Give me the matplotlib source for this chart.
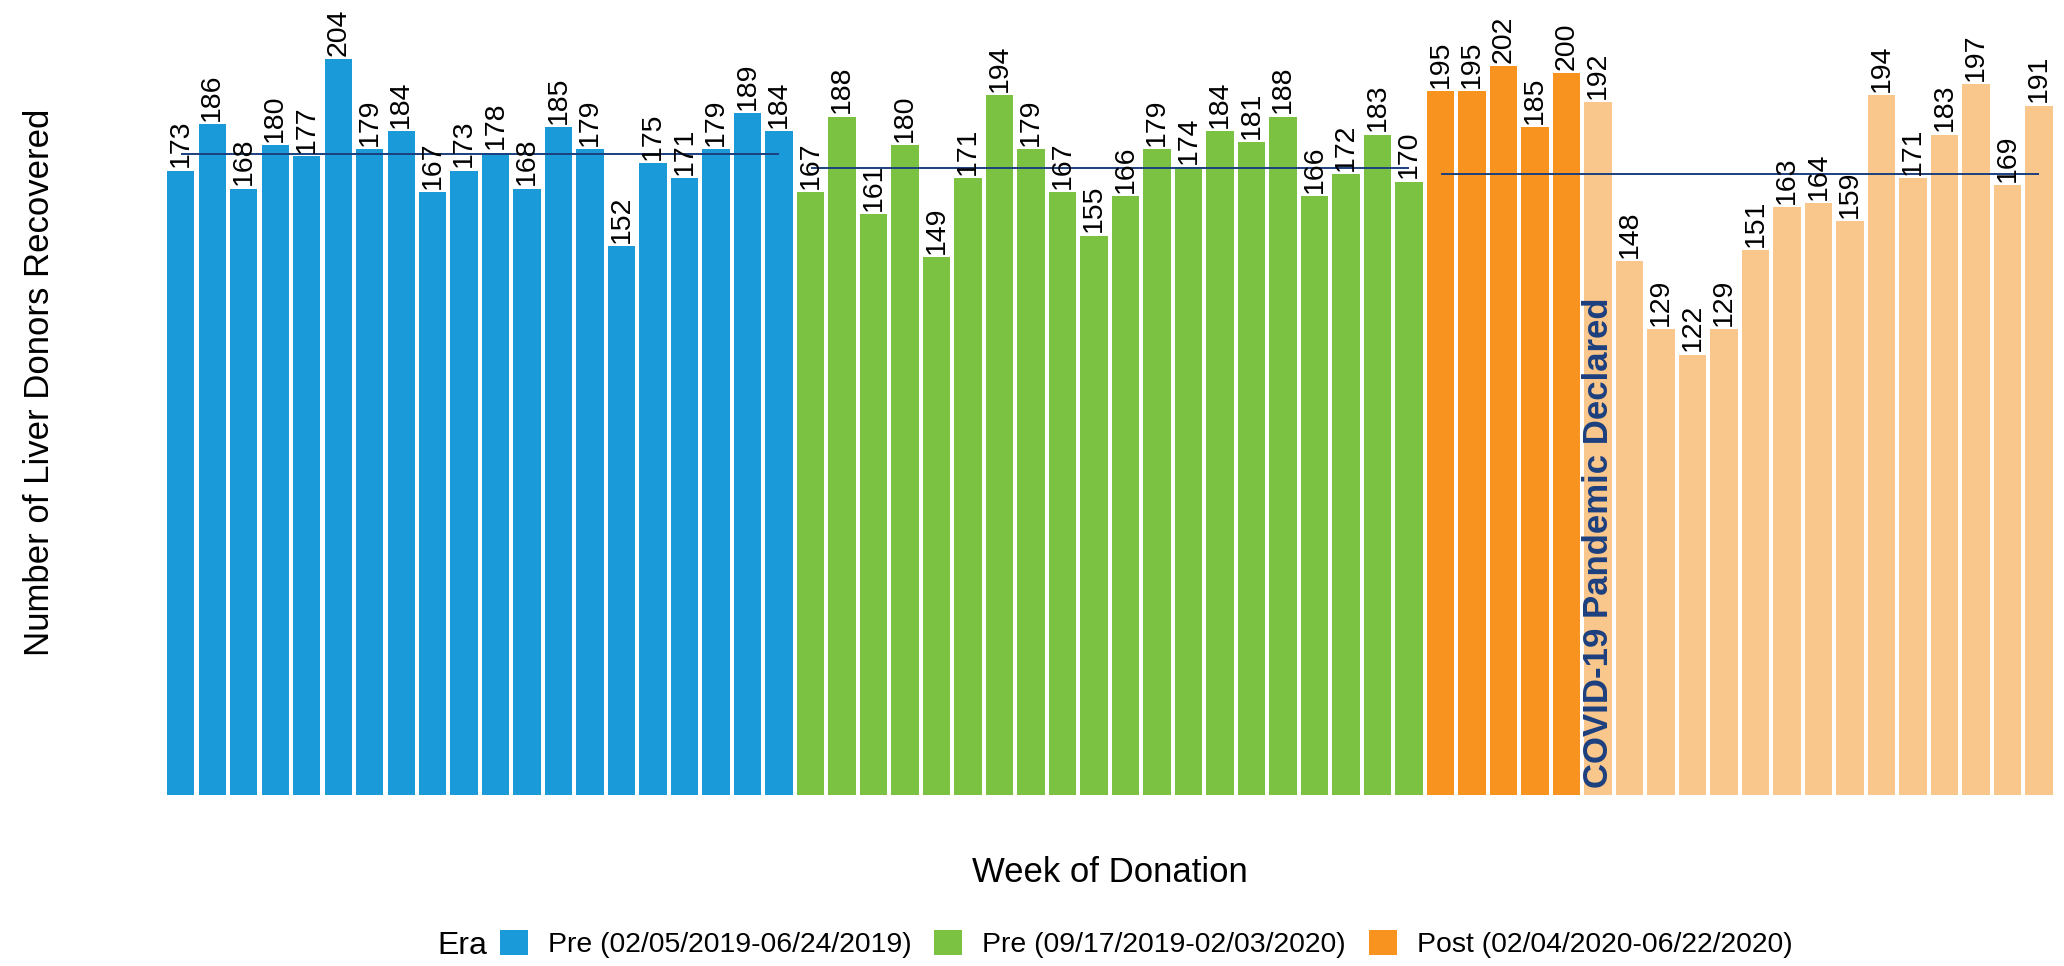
import matplotlib
matplotlib.use("Agg")
import matplotlib.pyplot as plt
from matplotlib.patches import Patch
import numpy as np

plt.rcParams['font.family'] = ['Liberation Sans', 'DejaVu Sans']

# Donantes semanais por era
pre1_vals = [173, 186, 168, 180, 177, 204, 179, 184, 167, 173,
             178, 168, 185, 179, 152, 175, 171, 179, 189, 184]
pre2_vals = [167, 188, 161, 180, 149, 171, 194, 179, 167, 155,
             166, 179, 174, 184, 181, 188, 166, 172, 183, 170]
post_before = [195, 195, 202, 185, 200]
post_after = [192, 148, 129, 122, 129, 151, 163, 164, 159, 194,
              171, 183, 197, 169, 191]

era_labels = ["Pre (02/05/2019-06/24/2019)",
              "Pre (09/17/2019-02/03/2020)",
              "Post (02/04/2020-06/22/2020)"]
annotation = "COVID-19 Pandemic Declared"

# cores
c_blue = '#1a9ad8'
c_green = '#7cc242'
c_orange = '#f7931e'
c_light = '#f9c68b'
c_navy = '#1c3f7e'

post_vals = post_before + post_after
values = pre1_vals + pre2_vals + post_vals
colors = ([c_blue] * len(pre1_vals) + [c_green] * len(pre2_vals)
          + [c_orange] * len(post_before) + [c_light] * len(post_after))
x = np.arange(1, len(values) + 1)

W, H = 2064, 966
fig = plt.figure(figsize=(W / 100, H / 100), dpi=100)
ax = fig.add_axes([163.4 / W, 171 / H, 1893 / W, 795 / H])
ax.bar(x, values, width=0.87, color=colors, zorder=1)
ax.set_xlim(0.45, 60.55)
ax.set_ylim(0, 220.3)
ax.axis('off')

# rótulos dos valores
for xi, v in zip(x, values):
    ax.text(xi, v + 0.9, str(v), rotation=90, ha='center', va='bottom',
            fontsize=20.5, color='black', zorder=4)

# médias por era
grupos = [pre1_vals, pre2_vals, post_vals]
inicio = 1
for g in grupos:
    fim = inicio + len(g) - 1
    ax.hlines(np.mean(g), inicio, fim, color=c_navy, linewidth=1.4, zorder=3)
    inicio = fim + 1

# anotação da pandemia (primeira semana após declaração)
x_covid = len(pre1_vals) + len(pre2_vals) + len(post_before) + 1
ax.text(x_covid, 2, annotation, rotation=90, ha='center', va='bottom',
        fontsize=25, fontweight='bold', color=c_navy, zorder=5)

fig.text(40 / W, 1 - 382 / H, "Number of Liver Donors Recovered",
         rotation=90, ha='center', va='center', fontsize=25)
fig.text(1110 / W, 1 - 873 / H, "Week of Donation",
         ha='center', va='center', fontsize=25)

handles = [Patch(facecolor=c, edgecolor='none') for c in (c_blue, c_green, c_orange)]
fig.legend(handles, era_labels, ncol=3, loc='center',
           bbox_to_anchor=(1146 / W, 1 - 944 / H), frameon=False,
           fontsize=20.4, handlelength=1.0, handleheight=1.0,
           handletextpad=0.7, columnspacing=0.8, borderpad=0, borderaxespad=0)
fig.text(462 / W, 1 - 946 / H, "Era", ha='center', va='center', fontsize=23)

fig.savefig("out.png", dpi=100)
